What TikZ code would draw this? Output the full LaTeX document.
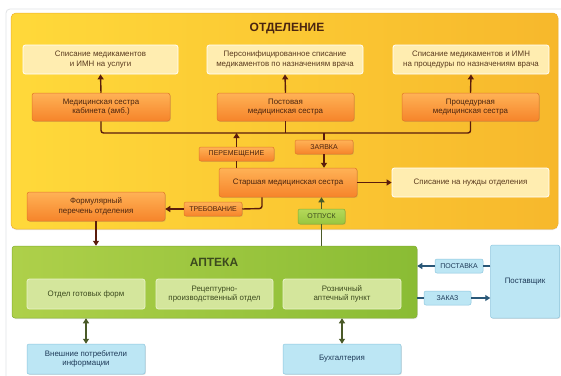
\documentclass[tikz,border=0pt]{standalone}
\usepackage{fontspec}
\setmainfont{Liberation Sans}
\usetikzlibrary{arrows.meta,shadows}
\definecolor{panelL}{HTML}{FFD93A}
\definecolor{panelR}{HTML}{F7B82C}
\definecolor{panelB}{HTML}{EFB030}
\definecolor{creamF}{HTML}{FFEDB0}
\definecolor{creamT}{HTML}{5A3A1E}
\definecolor{orT}{HTML}{FFB256}
\definecolor{orB}{HTML}{F6842A}
\definecolor{orD}{HTML}{E07828}
\definecolor{brT}{HTML}{4A2410}
\definecolor{brA}{HTML}{5A1C0C}
\definecolor{grL}{HTML}{AED04A}
\definecolor{grR}{HTML}{8ABC34}
\definecolor{grD}{HTML}{82AE30}
\definecolor{grIn}{HTML}{D4E69C}
\definecolor{grInB}{HTML}{E8F2C8}
\definecolor{grT}{HTML}{3C4A1E}
\definecolor{grA}{HTML}{4A5A28}
\definecolor{otT}{HTML}{B4D85A}
\definecolor{otB}{HTML}{98C640}
\definecolor{blF}{HTML}{BCE6F4}
\definecolor{blD}{HTML}{8CC6DE}
\definecolor{blT}{HTML}{1E3A58}
\definecolor{blA}{HTML}{2A5878}
\definecolor{frameC}{HTML}{E2E4E6}
\begin{document}
\begin{tikzpicture}[x=1pt,y=-1pt,font=\fontsize{7.9}{9.4}\selectfont,
  shd/.style={drop shadow={opacity=0.25,shadow xshift=0.8pt,shadow yshift=-0.8pt}},
  cream/.style={draw=white,line width=0.8pt,fill=creamF,rounded corners=2.5pt,align=center,text=creamT,inner sep=1pt},
  orng/.style={draw=orD,line width=0.5pt,top color=orT,bottom color=orB,rounded corners=2.5pt,align=center,text=brT,inner sep=1pt,shd},
  olbl/.style={draw=orD,line width=0.5pt,top color=orT,bottom color=orB,rounded corners=2pt,align=center,text=brT,inner sep=1pt,font=\fontsize{7}{8}\selectfont,shd},
  glbl/.style={draw=grD,line width=0.5pt,top color=otT,bottom color=otB,rounded corners=2pt,align=center,text=grT,inner sep=1pt,font=\fontsize{7}{8}\selectfont,shd},
  gbox/.style={draw=grInB,line width=0.8pt,fill=grIn,rounded corners=2.5pt,align=center,text=grT,inner sep=1pt},
  bbox/.style={draw=blD,line width=0.5pt,fill=blF,rounded corners=2pt,align=center,text=blT,inner sep=1pt,shd},
  blbl/.style={draw=blD,line width=0.5pt,fill=blF,rounded corners=2pt,align=center,text=blT,inner sep=1pt,font=\fontsize{7}{8}\selectfont},
  arr/.style={draw=brA,line width=1.4pt,rounded corners=2.5pt},
  ah/.style={-{Triangle[length=5pt,width=6pt]}},
  dah/.style={{Triangle[length=5pt,width=6pt]}-{Triangle[length=5pt,width=6pt]}},
  garr/.style={draw=grA,line width=1.4pt},
  barr/.style={draw=blA,line width=1.4pt}]
\useasboundingbox (0,0) rectangle (561,375);
\fill[white] (0,0) rectangle (561,375);
\draw[frameC,line width=0.8pt,rounded corners=4pt] (6,376) -- (6,9) -- (562,9);
% panels
\node[draw=panelB,line width=0.5pt,left color=panelL,right color=panelR,rounded corners=5pt,minimum width=547pt,minimum height=216pt,inner sep=0pt,drop shadow={opacity=0.2,shadow xshift=0pt,shadow yshift=-1pt}] (otd) at (284.5,121) {};
\node[font=\bfseries\fontsize{12}{14}\selectfont,text=brT] (otdt) at (287,29) {ОТДЕЛЕНИЕ};
\node[draw=grD,line width=0.5pt,left color=grL,right color=grR,rounded corners=3pt,minimum width=405pt,minimum height=72pt,inner sep=0pt,drop shadow={opacity=0.2,shadow xshift=0.8pt,shadow yshift=-1pt}] (ap) at (214.5,282) {};
\node[font=\bfseries\fontsize{12}{14}\selectfont,text=grT] (apt) at (214,262) {АПТЕКА};
% top boxes
\node[cream,minimum width=155pt,minimum height=29pt] (s1) at (100.5,59.5) {Списание медикаментов\\и ИМН на услуги};
\node[cream,minimum width=156pt,minimum height=29pt] (s2) at (285,59.5) {Персонифицированное списание\\медикаментов по назначениям врача};
\node[cream,minimum width=156pt,minimum height=29pt] (s3) at (471,59.5) {Списание медикаментов и ИМН\\на процедуры по назначениям врача};
\node[orng,minimum width=138pt,minimum height=28pt] (m1) at (101,107) {Медицинская сестра\\кабинета (амб.)};
\node[orng,minimum width=137pt,minimum height=28pt] (m2) at (285.5,107) {Постовая\\медицинская сестра};
\node[orng,minimum width=137pt,minimum height=28pt] (m3) at (470.5,107) {Процедурная\\медицинская сестра};
\draw[arr,ah] (m1.north) -- (s1.south);
\draw[arr,ah] (m2.north) -- (s2.south);
\draw[arr,ah] (m3.north) -- (s3.south);
\coordinate (busL) at (101,133);
\coordinate (busR) at (470.5,133);
\draw[arr] (m1.south) -- (busL) -- (busR) -- (m3.south);
\draw[arr] (m2.south) -- (m2.south |- busL);
% middle
\node[orng,minimum width=138pt,minimum height=29pt] (st) at (288,182.5) {Старшая медицинская сестра};
\node[cream,minimum width=157pt,minimum height=29pt] (sn) at (470.5,182.5) {Списание на нужды отделения};
\node[orng,minimum width=138pt,minimum height=29pt] (fr) at (96,206.5) {Формулярный\\перечень отделения};
\node[olbl,minimum width=75pt,minimum height=14pt] (pm) at (236.5,154) {ПЕРЕМЕЩЕНИЕ};
\node[olbl,minimum width=58pt,minimum height=14pt] (zv) at (324,147) {ЗАЯВКА};
\node[olbl,minimum width=58pt,minimum height=14pt] (tr) at (213,209) {ТРЕБОВАНИЕ};
\node[glbl,minimum width=47pt,minimum height=15pt] (ot) at (321.5,216.5) {ОТПУСК};
\draw[arr] (st.north -| pm) -- (pm.south);
\draw[arr,ah] (pm.north) -- (pm.north |- busL);
\draw[arr] (zv.north |- busL) -- (zv.north);
\draw[arr,ah] (zv.south) -- (zv.south |- st.north);
\draw[arr,ah] (st.east) -- (sn.west);
\coordinate (trc) at (262,208.5);
\draw[arr] (st.south -| trc) -- (trc) -- (tr.east);
\draw[arr,ah] (tr.west) -- (fr.east |- tr.west);
\draw[arr,ah] (fr.south) -- (fr.south |- ap.north);
\draw[garr] (ap.north -| ot) -- (ot.south);
\draw[garr,ah] (ot.north) -- (ot.north |- st.south);
% apteka inner
\node[gbox,minimum width=118pt,minimum height=30pt] (og) at (86,294) {Отдел готовых форм};
\node[gbox,minimum width=117pt,minimum height=30pt] (rp) at (214.5,294) {Рецептурно-\\производственный отдел};
\node[gbox,minimum width=118pt,minimum height=30pt] (rz) at (342,294) {Розничный\\аптечный пункт};
% bottom
\node[bbox,minimum width=118pt,minimum height=30pt] (vp) at (86,359) {Внешние потребители\\информации};
\node[bbox,minimum width=118pt,minimum height=30pt] (bh) at (342,359) {Бухгалтерия};
\node[bbox,minimum width=69pt,minimum height=73pt] (ps) at (525,281.5) {Поставщик};
\node[blbl,minimum width=48pt,minimum height=14pt] (pk) at (459,266) {ПОСТАВКА};
\node[blbl,minimum width=47pt,minimum height=14pt] (zk) at (447.5,298) {ЗАКАЗ};
\draw[garr,dah] (ap.south -| vp) -- (vp.north);
\draw[garr,dah] (ap.south -| bh) -- (bh.north);
\draw[barr] (ps.west |- pk) -- (pk.east);
\draw[barr,ah] (pk.west) -- (ap.east |- pk);
\draw[barr] (ap.east |- zk) -- (zk.west);
\draw[barr,ah] (zk.east) -- (ps.west |- zk);
\end{tikzpicture}
\end{document}
